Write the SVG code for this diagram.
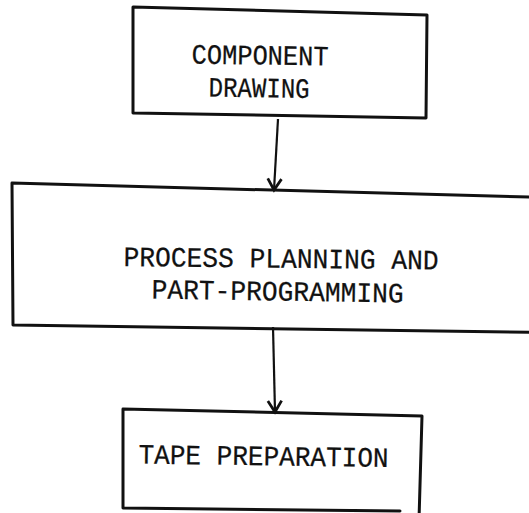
<svg xmlns="http://www.w3.org/2000/svg" width="529" height="513" viewBox="0 0 529 513">
  <style>
    .box { fill: none; stroke: #111; stroke-width: 3; stroke-linejoin: round; stroke-linecap: round; }
    .lbl { font-family: "Liberation Mono", "DejaVu Sans Mono", monospace; font-size: 28px; fill: #111; stroke: #111; stroke-width: 0.25; }
    .wire { fill: none; stroke: #111; stroke-width: 2.2; }
  </style>
  <defs>
    <marker id="vee" markerUnits="userSpaceOnUse" markerWidth="20" markerHeight="20" viewBox="-12 -8 14 16" refX="0" refY="0" orient="auto">
      <path d="M-9,-5.5 L0,0 L-9,5.5" fill="none" stroke="#111" stroke-width="2.2"/>
    </marker>
  </defs>
  <rect width="529" height="513" fill="#fff"/>

  <!-- flow steps -->
  <g id="component-drawing">
    <polygon class="box" points="133,7 427,15 426,118 133,113"/>
    <text class="lbl" x="191.5" y="63.5" textLength="137" lengthAdjust="spacingAndGlyphs" transform="rotate(0.8 191.5 63.5)">COMPONENT</text>
    <text class="lbl" x="208.5" y="96.5" textLength="101" lengthAdjust="spacingAndGlyphs" transform="rotate(0.8 208.5 96.5)">DRAWING</text>
  </g>

  <g id="process-planning">
    <polyline class="box" points="545,197.5 12,183 13,325 545,332.5"/>
    <text class="lbl" x="123.5" y="266" textLength="315" lengthAdjust="spacingAndGlyphs" transform="rotate(0.6 123.5 266)">PROCESS PLANNING AND</text>
    <text class="lbl" x="151.5" y="298.5" textLength="252" lengthAdjust="spacingAndGlyphs" transform="rotate(0.9 151.5 298.5)">PART-PROGRAMMING</text>
  </g>

  <g id="tape-preparation">
    <polyline class="box" points="419,520 422,416 123,409 123,508 400,511"/>
    <text class="lbl" x="138.5" y="463.5" textLength="250" lengthAdjust="spacingAndGlyphs" transform="rotate(0.8 138.5 463.5)">TAPE PREPARATION</text>
  </g>

  <!-- connectors -->
  <g id="connectors">
    <line class="wire" x1="278" y1="119" x2="274" y2="190" marker-end="url(#vee)"/>
    <line class="wire" x1="273" y1="327" x2="275" y2="412" marker-end="url(#vee)"/>
  </g>
</svg>
